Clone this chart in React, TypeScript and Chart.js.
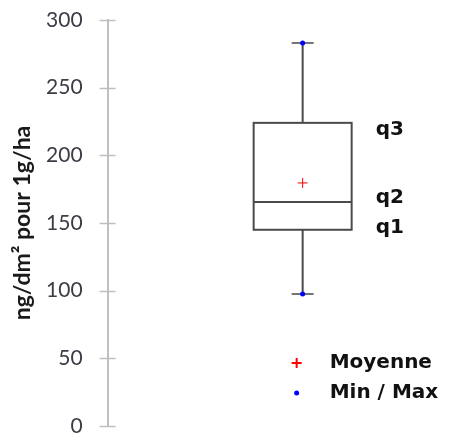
import React, { useEffect, useRef } from "react";
import { Chart, registerables } from "chart.js";

Chart.register(...registerables);

// ---- data ----
const categories = ["Essai"];
const minValues = [97.5];
const q1Values = [145];
const medianValues = [165.5];
const q3Values = [224];
const maxValues = [283];
const meanValues = [179.6];
const yTicks = [0, 50, 100, 150, 200, 250, 300];
const quartileLabels = ["q1", "q2", "q3"];
const legendLabels = ["Moyenne", "Min / Max"];
const yTitle = "ng/dm² pour 1g/ha";

const AXIS_GRAY = "#bfbfbf";
const BOX_GRAY = "#4a4a4a";

const boxPlugin = {
  id: "boxPlugin",
  beforeDatasetsDraw(chart: any) {
    const { ctx, scales } = chart;
    const xs = scales.x;
    const ys = scales.y;
    categories.forEach((_, i) => {
      const cx = xs.getPixelForValue(i);
      const half = 49;
      const cap = 11;
      const yMin = ys.getPixelForValue(minValues[i]);
      const yQ1 = ys.getPixelForValue(q1Values[i]);
      const yMed = ys.getPixelForValue(medianValues[i]);
      const yQ3 = ys.getPixelForValue(q3Values[i]);
      const yMax = ys.getPixelForValue(maxValues[i]);
      ctx.save();
      ctx.strokeStyle = BOX_GRAY;
      ctx.lineWidth = 2;
      ctx.beginPath();
      ctx.moveTo(cx, yQ3);
      ctx.lineTo(cx, yMax);
      ctx.moveTo(cx, yQ1);
      ctx.lineTo(cx, yMin);
      ctx.stroke();
      ctx.lineWidth = 1.5;
      ctx.beginPath();
      ctx.moveTo(cx - cap, yMax);
      ctx.lineTo(cx + cap, yMax);
      ctx.moveTo(cx - cap, yMin);
      ctx.lineTo(cx + cap, yMin);
      ctx.stroke();
      ctx.lineWidth = 2;
      ctx.strokeRect(cx - half, yQ3, half * 2, yQ1 - yQ3);
      ctx.beginPath();
      ctx.moveTo(cx - half, yMed);
      ctx.lineTo(cx + half, yMed);
      ctx.stroke();
      ctx.restore();
    });
  },
  afterDraw(chart: any) {
    const { ctx, scales, chartArea } = chart;
    const xs = scales.x;
    const ys = scales.y;
    ctx.save();
    // y-axis tick marks crossing the axis line
    ctx.strokeStyle = AXIS_GRAY;
    ctx.lineWidth = 1.5;
    ys.ticks.forEach((t: any) => {
      const y = Math.round(ys.getPixelForValue(t.value)) + 0.5;
      ctx.beginPath();
      ctx.moveTo(chartArea.left - 8, y);
      ctx.lineTo(chartArea.left + 8, y);
      ctx.stroke();
    });
    // quartile labels
    ctx.fillStyle = "#111";
    ctx.font = "bold 20px 'DejaVu Sans'";
    ctx.textAlign = "left";
    ctx.textBaseline = "alphabetic";
    categories.forEach((_, i) => {
      const lx = xs.getPixelForValue(i) + 73;
      ctx.fillText(quartileLabels[2], lx, ys.getPixelForValue(q3Values[i]) + 12);
      ctx.fillText(quartileLabels[1], lx, ys.getPixelForValue(medianValues[i]) + 1);
      ctx.fillText(quartileLabels[0], lx, ys.getPixelForValue(q1Values[i]) + 3);
    });
    // legend
    const mx = xs.getPixelForValue(0) - 6;
    const tx = mx + 33;
    const y1 = chartArea.bottom - 63;
    const y2 = chartArea.bottom - 33;
    ctx.strokeStyle = "#ff0000";
    ctx.lineWidth = 2;
    ctx.beginPath();
    ctx.moveTo(mx - 5, y1);
    ctx.lineTo(mx + 5, y1);
    ctx.moveTo(mx, y1 - 5);
    ctx.lineTo(mx, y1 + 5);
    ctx.stroke();
    ctx.fillStyle = "#0000ff";
    ctx.beginPath();
    ctx.arc(mx, y2, 2.5, 0, Math.PI * 2);
    ctx.fill();
    ctx.fillStyle = "#111";
    ctx.font = "bold 20px 'DejaVu Sans'";
    ctx.textBaseline = "middle";
    ctx.fillText(legendLabels[0], tx, y1);
    ctx.fillText(legendLabels[1], tx, y2);
    ctx.restore();
  },
};

export default function App() {
  const ref = useRef<HTMLCanvasElement>(null);
  useEffect(() => {
    document.body.style.margin = "0";
    const chart = new Chart(ref.current as HTMLCanvasElement, {
      type: "scatter",
      data: {
        datasets: [
          {
            label: legendLabels[0],
            data: meanValues.map((v, i) => ({ x: i, y: v })),
            pointStyle: "cross",
            radius: 5,
            borderColor: "#ff0000",
            borderWidth: 1,
          },
          {
            label: legendLabels[1],
            data: categories.flatMap((_, i) => [
              { x: i, y: minValues[i] },
              { x: i, y: maxValues[i] },
            ]),
            pointStyle: "circle",
            radius: 2.5,
            backgroundColor: "#0000ff",
            borderWidth: 0,
          },
        ],
      },
      options: {
        animation: false,
        responsive: true,
        maintainAspectRatio: false,
        layout: { padding: { top: 20, bottom: 13, left: 0, right: 7 } },
        plugins: { legend: { display: false }, tooltip: { enabled: false } },
        scales: {
          x: { type: "linear", min: -1.28, max: 1, display: false },
          y: {
            type: "linear",
            min: 0,
            max: 300,
            afterBuildTicks: (scale: any) => {
              scale.ticks = yTicks.map((v) => ({ value: v }));
            },
            ticks: {
              color: "#3c3c46",
              font: { family: "Lato", size: 21 },
              padding: 0,
            },
            grid: {
              drawOnChartArea: false,
              drawTicks: true,
              tickLength: 25,
              color: "rgba(0,0,0,0)",
            },
            border: { display: true, color: AXIS_GRAY, width: 2 },
            title: {
              display: true,
              text: yTitle,
              color: "#1a1a1a",
              font: { family: "Lato", size: 23, weight: "bold" },
              padding: { top: 8.5, bottom: 10 },
            },
          },
        },
      },
      plugins: [boxPlugin],
    });
    return () => chart.destroy();
  }, []);
  return (
    <div style={{ width: 462, height: 439, position: "relative" }}>
      <canvas ref={ref} />
    </div>
  );
}
